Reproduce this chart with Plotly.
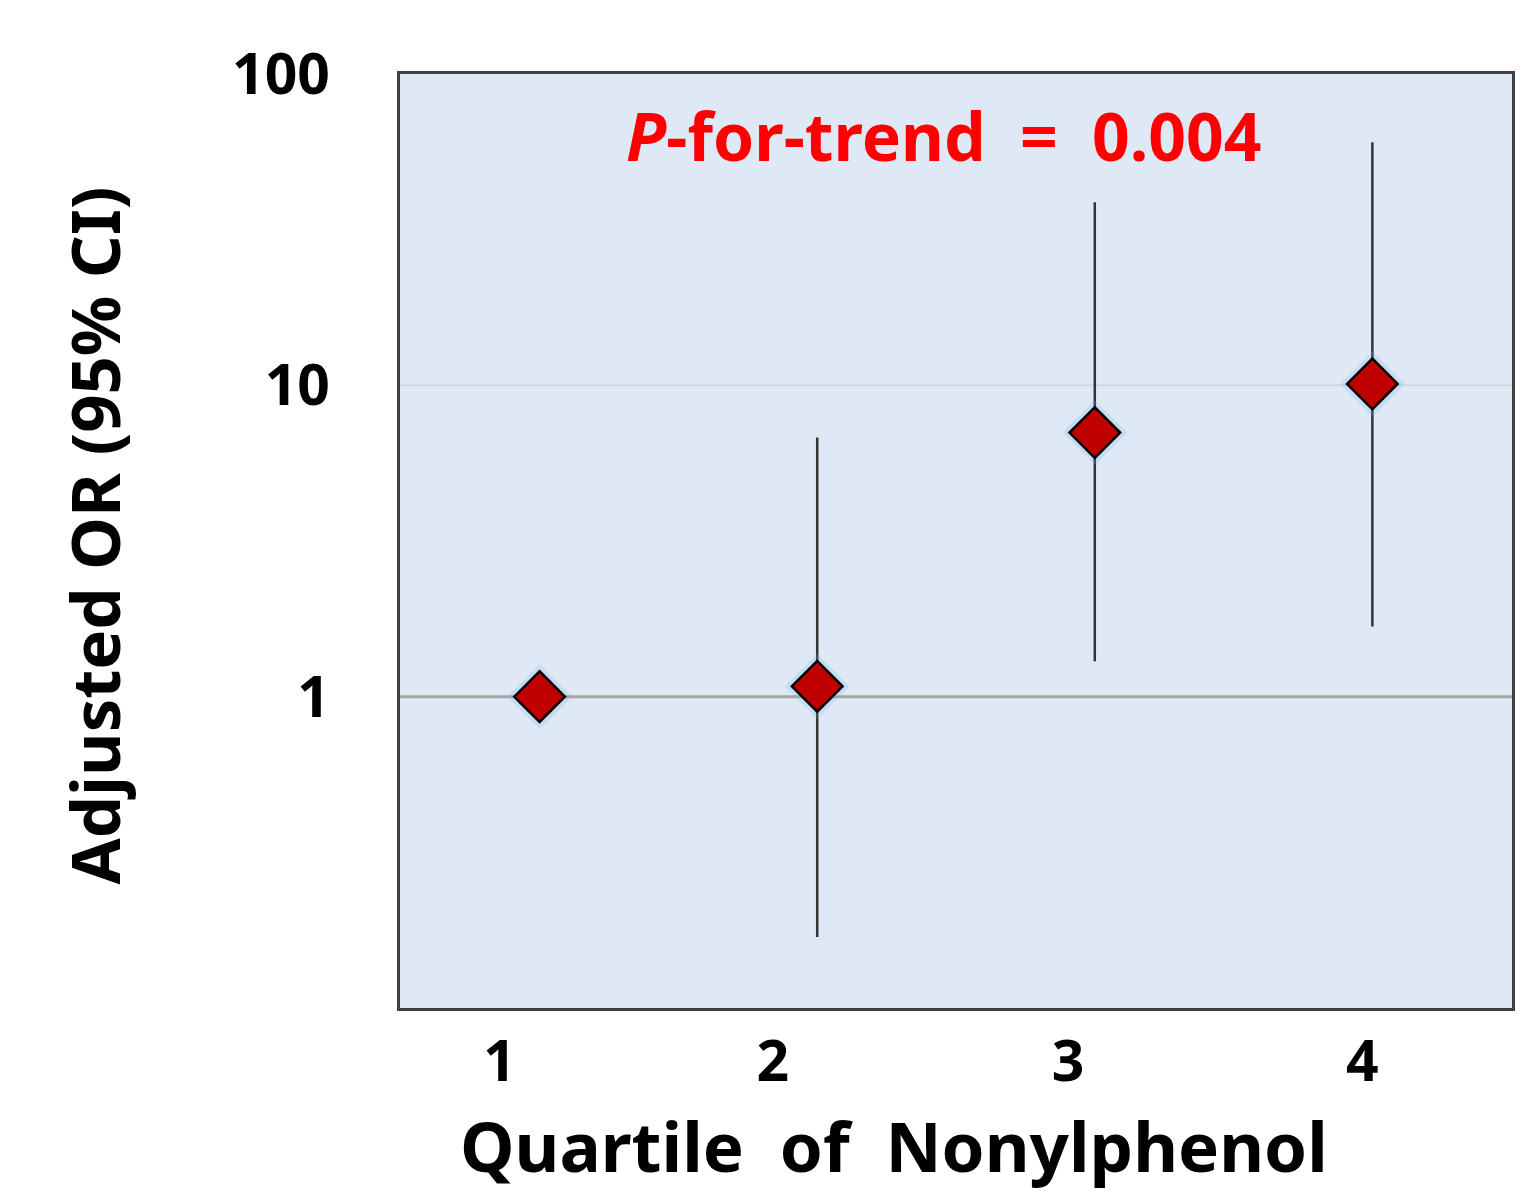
import plotly.graph_objects as go

quartiles = [1, 2, 3, 4]
odds_ratio = [1.0, 1.08, 7.05, 10.1]
ci_lower = [None, 0.169, 1.30, 1.68]
ci_upper = [None, 6.8, 38.7, 60.4]
x_tick_pos = [0.856, 1.84, 2.904, 3.964]
x_tick_text = ["1", "2", "3", "4"]
y_tick_vals = [1, 10, 100]
y_tick_text = ["1", "10", "100"]
reference_or = 1
grid_or = 10

err_plus = [0 if u is None else u - o for u, o in zip(ci_upper, odds_ratio)]
err_minus = [0 if l is None else o - l for l, o in zip(ci_lower, odds_ratio)]

FONT = "Noto Sans"

fig = go.Figure()

fig.add_shape(type="line", xref="paper", x0=0, x1=1, yref="y", y0=grid_or, y1=grid_or,
              line=dict(color="#D4D4D4", width=1.5), layer="below")
fig.add_shape(type="line", xref="paper", x0=0, x1=1, yref="y", y0=reference_or, y1=reference_or,
              line=dict(color="#A9A5A3", width=3), layer="below")

# error bars
fig.add_trace(go.Scatter(
    x=quartiles, y=odds_ratio, mode="markers",
    marker=dict(size=1, color="rgba(0,0,0,0)"),
    error_y=dict(type="data", symmetric=False, array=err_plus, arrayminus=err_minus,
                 color="#333333", thickness=2.5, width=0, visible=True),
    showlegend=False, hoverinfo="skip",
))
# glow
fig.add_trace(go.Scatter(
    x=quartiles, y=odds_ratio, mode="markers",
    marker=dict(symbol="diamond", size=50, color="rgba(110,175,235,0.22)", line=dict(width=0)),
    showlegend=False, hoverinfo="skip",
))
# diamonds
fig.add_trace(go.Scatter(
    x=quartiles, y=odds_ratio, mode="markers",
    marker=dict(symbol="diamond", size=39, color="#C00000", line=dict(color="#000000", width=2.5)),
    showlegend=False,
))

fig.update_layout(
    width=1523, height=1195,
    margin=dict(l=400, r=8, t=74, b=187),
    paper_bgcolor="white",
    plot_bgcolor="#DEE9F5",
    font=dict(family=FONT, color="black"),
    xaxis=dict(
        range=[0.497, 4.503], tickvals=x_tick_pos, ticktext=x_tick_text,
        showgrid=False, zeroline=False, ticks="",
        tickfont=dict(size=57, family=FONT, weight="bold"),
        ticklabelstandoff=2,
        showline=True, linecolor="#404040", linewidth=2.5, mirror=True,
    ),
    yaxis=dict(
        type="log", range=[-1, 2], tickvals=y_tick_vals, ticktext=y_tick_text,
        showgrid=False, zeroline=False, ticks="",
        tickfont=dict(size=57, family=FONT, weight="bold"),
        ticklabelstandoff=56,
        showline=True, linecolor="#404040", linewidth=2.5, mirror=True,
    ),
    annotations=[
        dict(text="<i>P</i>-for-trend&nbsp;&nbsp;=&nbsp;&nbsp;0.004", xref="paper", yref="paper",
             x=0.489, y=0.935, showarrow=False, xanchor="center", yanchor="middle",
             font=dict(size=66, color="#FF0000", family=FONT, weight="bold")),
        dict(text="Adjusted OR (95% CI)", xref="paper", yref="paper",
             x=-0.275, y=0.506, showarrow=False, textangle=-90,
             xanchor="center", yanchor="middle",
             font=dict(size=67, color="black", family=FONT, weight="bold")),
        dict(text="Quartile&nbsp;&nbsp;of&nbsp;&nbsp;Nonylphenol", xref="paper", yref="paper",
             x=0.444, y=-0.147, showarrow=False, xanchor="center", yanchor="middle",
             font=dict(size=69, color="black", family=FONT, weight="bold")),
    ],
)

fig.write_html("out.html", config={"displayModeBar": False},
               post_script="document.body.style.margin='0px';document.body.style.overflow='hidden';")
